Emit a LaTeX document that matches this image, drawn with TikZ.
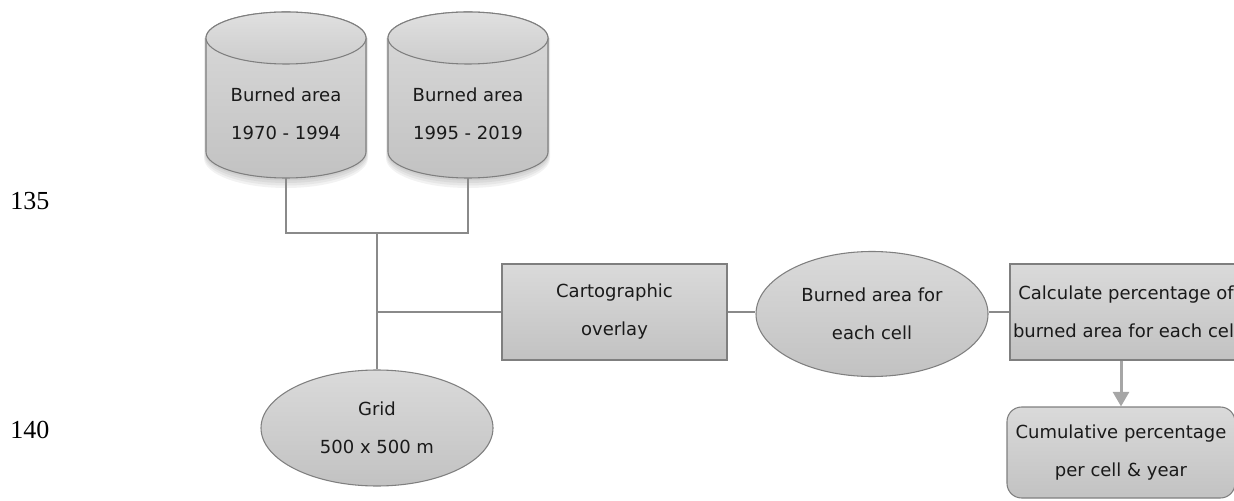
\documentclass[tikz,border=0pt]{standalone}
\usepackage{fontspec}
\setmainfont{DejaVu Sans}
\newfontfamily\lnfont{Liberation Serif}
\usetikzlibrary{shapes.geometric,arrows.meta}
\definecolor{topg}{HTML}{DADADA}
\definecolor{botg}{HTML}{C2C2C2}
\definecolor{captop}{HTML}{E0E0E0}
\definecolor{capbot}{HTML}{CCCCCC}
\definecolor{edgeg}{HTML}{7F7F7F}
\definecolor{lineg}{HTML}{8A8A8A}
\definecolor{arrg}{HTML}{A6A6A6}
\definecolor{txt}{HTML}{1A1A1A}
\begin{document}
\begin{tikzpicture}[x=0.75pt,y=0.75pt,
  gfill/.style={top color=topg,bottom color=botg},
  difont/.style={font=\fontsize{13.5}{28.5}\selectfont},
  box/.style={gfill, draw=edgeg, line width=0.8pt, minimum height=72pt,
    inner xsep=0pt, align=center, difont, text=txt},
  ell/.style={gfill, draw=edgeg, ellipse, line width=0.8pt, inner sep=0pt,
    align=center, difont, text=txt},
  lbl/.style={align=center, difont, text=txt},
  cylbody/.style={gfill, draw=edgeg, line width=0.8pt},
  cylcap/.style={top color=captop, bottom color=capbot, draw=edgeg, line width=0.8pt},
  cylshadow/.style={fill=black, fill opacity=0.05},
  conn/.style={draw=lineg, line width=1pt},
  arr/.style={draw=arrg, line width=2.25pt, -{Triangle[width=12pt,length=11pt]}},
  lnum/.style={font=\lnfont\fontsize{19.5}{22}\selectfont, inner sep=0pt, text=black}]
\useasboundingbox (0,0) rectangle (1234,500);

% soft shadows of the cylinders
\foreach \cx in {286,468} {
  \foreach \s in {1,2,3,4} {
    \path[cylshadow] (\cx-80-\s*0.5,462) -- (\cx-80-\s*0.5,348-\s*1.5)
      arc[start angle=180,end angle=360,x radius=60pt+\s*0.375pt,y radius=19.5pt+\s*0.75pt]
      -- (\cx+80+\s*0.5,462) -- cycle;
  }
}

% cylinders
\path[cylbody] (206,462) -- (206,348) arc[start angle=180,end angle=360,x radius=60pt,y radius=19.5pt]
  -- (366,462) arc[start angle=0,end angle=180,x radius=60pt,y radius=19.5pt] -- cycle;
\path[cylcap] (286,462) ellipse[x radius=60pt,y radius=19.5pt];
\path[cylbody] (388,462) -- (388,348) arc[start angle=180,end angle=360,x radius=60pt,y radius=19.5pt]
  -- (548,462) arc[start angle=0,end angle=180,x radius=60pt,y radius=19.5pt] -- cycle;
\path[cylcap] (468,462) ellipse[x radius=60pt,y radius=19.5pt];

\node[lbl] (cyl1) at (286,386) {Burned area\\1970 - 1994};
\node[lbl] (cyl2) at (468,386) {Burned area\\1995 - 2019};
\coordinate (cyl1b) at (286,322);
\coordinate (cyl2b) at (468,322);
\coordinate (join) at (377,267);
\coordinate (mid) at (377,188);

% nodes
\node[box, minimum width=168.75pt] (overlay) at (614.5,188) {Cartographic\\overlay};
\node[ell, minimum width=174pt, minimum height=93.75pt] (cell) at (872,186) {Burned area for\\each cell};
\node[box, minimum width=174pt] (calc) at (1126,188) {Calculate percentage of\\burned area for each cell};
\node[box, rounded corners=11pt, minimum width=171pt, minimum height=68.25pt] (cum) at (1121,47.5) {Cumulative percentage\\per cell \& year};
\node[ell, minimum width=174pt, minimum height=87pt] (grid) at (377,72) {Grid\\500 x 500 m};

% line numbers
\node[lnum, anchor=west] (ln135) at (10,299) {135};
\node[lnum, anchor=west] (ln140) at (10,70) {140};

% connectors
\draw[conn] (cyl1b) |- (join) -| (cyl2b);
\draw[conn] (join) -- (grid.north);
\draw[conn] (mid) -- (overlay.west);
\draw[conn] (overlay.east) -- (cell.west |- overlay.east);
\draw[conn] (cell.east |- calc.west) -- (calc.west);
\draw[arr] (cum.north |- calc.south) -- (cum.north);
\end{tikzpicture}
\end{document}
